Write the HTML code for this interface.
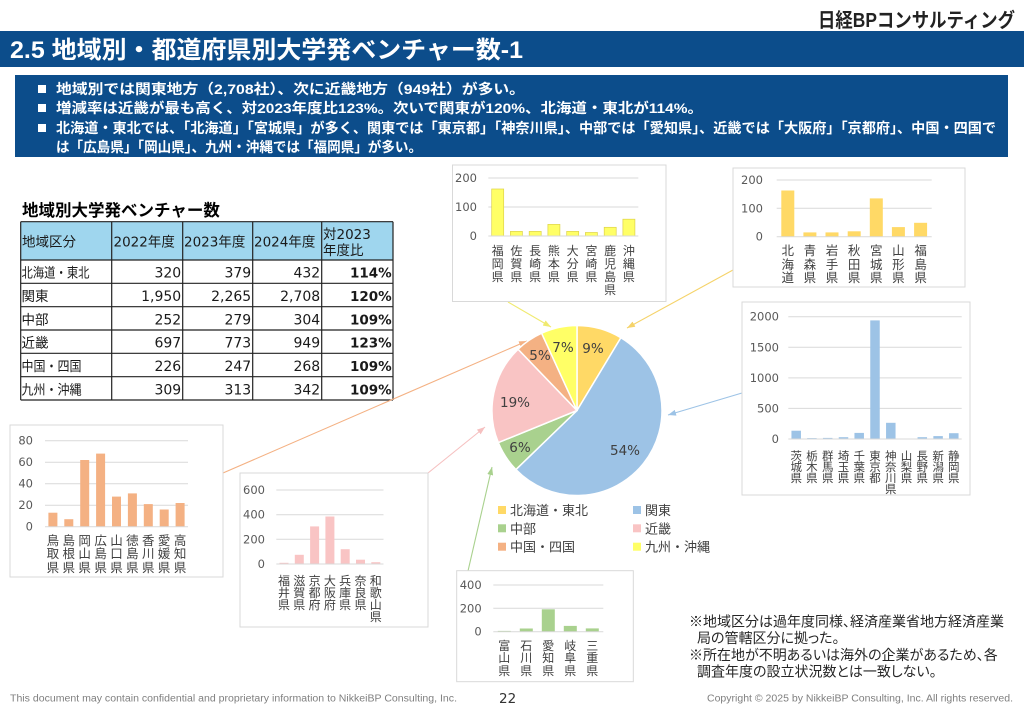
<!DOCTYPE html>
<html><head><meta charset="utf-8">
<style>
html,body{margin:0;padding:0;background:#fff;}
body{width:1024px;height:709px;position:relative;overflow:hidden;font-family:"Liberation Sans","Noto Sans CJK JP",sans-serif;}
svg{position:absolute;left:0;top:0;}
.jp{font-family:"Liberation Sans","Noto Sans CJK JP",sans-serif;}
.dv{font-family:"DejaVu Sans","Noto Sans CJK JP",sans-serif;}
.ax{font-family:"DejaVu Sans",sans-serif;font-size:11.5px;fill:#595959;text-anchor:end;}
.pl{font-family:"DejaVu Sans",sans-serif;font-size:13.5px;fill:#404040;text-anchor:middle;}
.lg{font-family:"Liberation Sans","Noto Sans CJK JP",sans-serif;font-size:13px;fill:#404040;}
.nt{font-family:"Liberation Sans","Noto Sans CJK JP",sans-serif;font-size:14px;fill:#262626;font-feature-settings:"palt";}
.v{position:absolute;width:16px;margin-left:-8px;text-align:center;color:#404040;font-family:"Noto Sans CJK JP",sans-serif;}
.a{font-size:12px;line-height:13px;top:243.5px;}
.b{font-size:12.5px;line-height:13.3px;top:243.3px;}
.c{font-size:11.5px;line-height:11px;top:451.2px;}
.d{font-size:12.5px;line-height:13.7px;top:532.5px;}
.e{font-size:12px;line-height:12px;top:574.7px;}
.f{font-size:12px;line-height:12.5px;top:639.75px;}
</style></head><body>
<svg width="1024" height="709" viewBox="0 0 1024 709" xmlns="http://www.w3.org/2000/svg">
<defs>
<marker id="mY" markerWidth="8" markerHeight="6" refX="8" refY="3" orient="auto" markerUnits="userSpaceOnUse"><path d="M0,0 L8,3 L0,6 z" fill="#f0ea70"/></marker>
<marker id="mG" markerWidth="8" markerHeight="6" refX="8" refY="3" orient="auto" markerUnits="userSpaceOnUse"><path d="M0,0 L8,3 L0,6 z" fill="#f5d36a"/></marker>
<marker id="mB" markerWidth="8" markerHeight="6" refX="8" refY="3" orient="auto" markerUnits="userSpaceOnUse"><path d="M0,0 L8,3 L0,6 z" fill="#9dc3e6"/></marker>
<marker id="mO" markerWidth="8" markerHeight="6" refX="8" refY="3" orient="auto" markerUnits="userSpaceOnUse"><path d="M0,0 L8,3 L0,6 z" fill="#f4b183"/></marker>
<marker id="mP" markerWidth="8" markerHeight="6" refX="8" refY="3" orient="auto" markerUnits="userSpaceOnUse"><path d="M0,0 L8,3 L0,6 z" fill="#f6c0c0"/></marker>
<marker id="mN" markerWidth="8" markerHeight="6" refX="8" refY="3" orient="auto" markerUnits="userSpaceOnUse"><path d="M0,0 L8,3 L0,6 z" fill="#a9d18e"/></marker>
</defs>

<!-- logo -->
<text x="818" y="27" class="jp" font-size="20" font-weight="bold" fill="#222" textLength="197" lengthAdjust="spacingAndGlyphs">日経BPコンサルティング</text>

<!-- title bar -->
<rect x="0" y="31" width="1024" height="36" fill="#0c4d8b"/>
<text x="10" y="58" class="jp" font-size="24" font-weight="bold" fill="#fff" textLength="513" lengthAdjust="spacingAndGlyphs">2.5 地域別・都道府県別大学発ベンチャー数-1</text>

<!-- summary box -->
<rect x="15" y="75" width="993" height="82" fill="#0c4d8b"/>
<rect x="38" y="85" width="8" height="8" fill="#fff"/>
<rect x="38" y="104" width="8" height="8" fill="#fff"/>
<rect x="38" y="124" width="8" height="8" fill="#fff"/>
<g class="jp" font-size="14" font-weight="bold" fill="#fff">
<text x="56" y="94" textLength="469" lengthAdjust="spacingAndGlyphs">地域別では関東地方（2,708社）、次に近畿地方（949社）が多い。</text>
<text x="56" y="113" textLength="647" lengthAdjust="spacingAndGlyphs">増減率は近畿が最も高く、対2023年度比123%。次いで関東が120%、北海道・東北が114%。</text>
<text x="56" y="133" textLength="940" lengthAdjust="spacingAndGlyphs">北海道・東北では、「北海道」「宮城県」が多く、関東では「東京都」「神奈川県」、中部では「愛知県」、近畿では「大阪府」「京都府」、中国・四国で</text>
<text x="56" y="152" textLength="366" lengthAdjust="spacingAndGlyphs">は「広島県」「岡山県」、九州・沖縄では「福岡県」が多い。</text>
</g>

<!-- table -->
<text x="22" y="216" class="jp" font-size="16.5" font-weight="bold" fill="#000">地域別大学発ベンチャー数</text>
<rect x="20.7" y="221.7" width="372.3" height="38.3" fill="#9fd6ee"/>
<g stroke="#222" stroke-width="1.2">
<line x1="20.7" y1="221.7" x2="393" y2="221.7"/>
<line x1="20.7" y1="260" x2="393" y2="260"/>
<line x1="20.7" y1="283.3" x2="393" y2="283.3"/>
<line x1="20.7" y1="306.7" x2="393" y2="306.7"/>
<line x1="20.7" y1="330" x2="393" y2="330"/>
<line x1="20.7" y1="353.3" x2="393" y2="353.3"/>
<line x1="20.7" y1="376.7" x2="393" y2="376.7"/>
<line x1="20.7" y1="400" x2="393" y2="400"/>
<line x1="20.7" y1="221.7" x2="20.7" y2="400"/>
<line x1="111.7" y1="221.7" x2="111.7" y2="400"/>
<line x1="182.7" y1="221.7" x2="182.7" y2="400"/>
<line x1="252.7" y1="221.7" x2="252.7" y2="400"/>
<line x1="321.7" y1="221.7" x2="321.7" y2="400"/>
<line x1="393" y1="221.7" x2="393" y2="400"/>
</g>
<g class="dv" font-size="13.5" fill="#1a1a1a">
<text x="22" y="246.5" class="jp">地域区分</text>
<text x="113.5" y="246.5">2022年度</text>
<text x="184" y="246.5">2023年度</text>
<text x="254" y="246.5">2024年度</text>
<text x="323" y="239">対2023</text>
<text x="323" y="255">年度比</text>
<text x="21.5" y="277.5" class="jp" textLength="68" lengthAdjust="spacingAndGlyphs">北海道・東北</text>
<text x="21.5" y="301" class="jp">関東</text>
<text x="21.5" y="324.3" class="jp">中部</text>
<text x="21.5" y="347.6" class="jp">近畿</text>
<text x="21.5" y="371" class="jp" textLength="60" lengthAdjust="spacingAndGlyphs">中国・四国</text>
<text x="21.5" y="394.3" class="jp" textLength="60" lengthAdjust="spacingAndGlyphs">九州・沖縄</text>
</g>
<g class="dv" font-size="14" fill="#1a1a1a" text-anchor="end">
<text x="181.2" y="277.5">320</text><text x="251.2" y="277.5">379</text><text x="320.2" y="277.5">432</text>
<text x="181.2" y="301">1,950</text><text x="251.2" y="301">2,265</text><text x="320.2" y="301">2,708</text>
<text x="181.2" y="324.3">252</text><text x="251.2" y="324.3">279</text><text x="320.2" y="324.3">304</text>
<text x="181.2" y="347.6">697</text><text x="251.2" y="347.6">773</text><text x="320.2" y="347.6">949</text>
<text x="181.2" y="371">226</text><text x="251.2" y="371">247</text><text x="320.2" y="371">268</text>
<text x="181.2" y="394.3">309</text><text x="251.2" y="394.3">313</text><text x="320.2" y="394.3">342</text>
</g>
<g class="dv" font-size="13.5" font-weight="bold" fill="#1a1a1a" text-anchor="end">
<text x="391.7" y="277.5">114%</text>
<text x="391.7" y="301">120%</text>
<text x="391.7" y="324.3">109%</text>
<text x="391.7" y="347.6">123%</text>
<text x="391.7" y="371">109%</text>
<text x="391.7" y="394.3">109%</text>
</g>

<!-- arrows -->
<g stroke-width="1.1" fill="none">
<line x1="508" y1="302" x2="551" y2="327" stroke="#f0ea70" marker-end="url(#mY)"/>
<line x1="733" y1="270" x2="627" y2="328" stroke="#f5d36a" marker-end="url(#mG)"/>
<line x1="742" y1="393" x2="668" y2="415" stroke="#9dc3e6" marker-end="url(#mB)"/>
<line x1="223" y1="473" x2="527" y2="341" stroke="#f4b183" marker-end="url(#mO)"/>
<line x1="428" y1="473" x2="485" y2="427" stroke="#f6c0c0" marker-end="url(#mP)"/>
<line x1="468" y1="571" x2="492" y2="467" stroke="#a9d18e" marker-end="url(#mN)"/>
</g>

<!-- Chart A: Kyushu-Okinawa -->
<rect x="452.5" y="165" width="213.5" height="136.5" fill="#fff" stroke="#d9d9d9"/>
<g stroke="#d9d9d9" stroke-width="1">
<line x1="488.3" y1="178" x2="638.3" y2="178"/>
<line x1="488.3" y1="207" x2="638.3" y2="207"/>
</g>
<g fill="#ffff66" stroke="#ddd24a" stroke-width="0.7">
<rect x="491.7" y="189" width="12" height="47"/>
<rect x="510.4" y="231.4" width="12" height="4.6"/>
<rect x="529.2" y="231.4" width="12" height="4.6"/>
<rect x="547.9" y="224.4" width="12" height="11.6"/>
<rect x="566.7" y="231.4" width="12" height="4.6"/>
<rect x="585.4" y="232.5" width="12" height="3.5"/>
<rect x="604.2" y="227.3" width="12" height="8.7"/>
<rect x="622.9" y="219.2" width="12" height="16.8"/>
</g>
<line x1="488.3" y1="236" x2="638.3" y2="236" stroke="#d9d9d9"/>
<text class="ax" x="477" y="182">200</text>
<text class="ax" x="477" y="211">100</text>
<text class="ax" x="477" y="240">0</text>

<!-- Chart B: Hokkaido-Tohoku -->
<rect x="733" y="168" width="232" height="119" fill="#fff" stroke="#d9d9d9"/>
<g stroke="#d9d9d9">
<line x1="776.7" y1="180" x2="931.7" y2="180"/>
<line x1="776.7" y1="208.3" x2="931.7" y2="208.3"/>
</g>
<g fill="#ffd966">
<rect x="781.3" y="190.5" width="13" height="46.2"/>
<rect x="803.4" y="232.4" width="13" height="4.3"/>
<rect x="825.5" y="232.4" width="13" height="4.3"/>
<rect x="847.7" y="231.3" width="13" height="5.4"/>
<rect x="869.8" y="198.4" width="13" height="38.3"/>
<rect x="891.9" y="227.1" width="13" height="9.6"/>
<rect x="914.1" y="222.8" width="13" height="13.9"/>
</g>
<line x1="776.7" y1="236.7" x2="931.7" y2="236.7" stroke="#d9d9d9"/>
<text class="ax" x="763" y="184">200</text>
<text class="ax" x="763" y="212.3">100</text>
<text class="ax" x="763" y="240.7">0</text>

<!-- Chart C: Kanto -->
<rect x="742" y="302" width="228" height="193" fill="#fff" stroke="#d9d9d9"/>
<g stroke="#d9d9d9">
<line x1="788.3" y1="316.7" x2="961.7" y2="316.7"/>
<line x1="788.3" y1="347.3" x2="961.7" y2="347.3"/>
<line x1="788.3" y1="377.85" x2="961.7" y2="377.85"/>
<line x1="788.3" y1="408.4" x2="961.7" y2="408.4"/>
</g>
<g fill="#9dc3e6">
<rect x="791.45" y="430.7" width="9.5" height="8.3"/>
<rect x="807.15" y="438.1" width="9.5" height="0.9"/>
<rect x="822.95" y="437.9" width="9.5" height="1.1"/>
<rect x="838.75" y="437.2" width="9.5" height="1.8"/>
<rect x="854.45" y="432.9" width="9.5" height="6.1"/>
<rect x="870.25" y="320.4" width="9.5" height="118.6"/>
<rect x="886.05" y="422.8" width="9.5" height="16.2"/>
<rect x="901.75" y="438.7" width="9.5" height="0.3"/>
<rect x="917.55" y="437.2" width="9.5" height="1.8"/>
<rect x="933.35" y="436.1" width="9.5" height="2.9"/>
<rect x="949.05" y="433.2" width="9.5" height="5.8"/>
</g>
<line x1="788.3" y1="439" x2="961.7" y2="439" stroke="#d9d9d9"/>
<text class="ax" x="779" y="320.7">2000</text>
<text class="ax" x="779" y="351.3">1500</text>
<text class="ax" x="779" y="381.85">1000</text>
<text class="ax" x="779" y="412.4">500</text>
<text class="ax" x="779" y="443">0</text>

<!-- Chart D: Chugoku-Shikoku -->
<rect x="10" y="425" width="213" height="152" fill="#fff" stroke="#d9d9d9"/>
<g stroke="#d9d9d9">
<line x1="45" y1="440.7" x2="188" y2="440.7"/>
<line x1="45" y1="462.2" x2="188" y2="462.2"/>
<line x1="45" y1="483.7" x2="188" y2="483.7"/>
<line x1="45" y1="505.2" x2="188" y2="505.2"/>
</g>
<g fill="#f4b183">
<rect x="48.4" y="512.7" width="9" height="14"/>
<rect x="64.3" y="519.2" width="9" height="7.5"/>
<rect x="80.2" y="460" width="9" height="66.7"/>
<rect x="96.1" y="453.6" width="9" height="73.1"/>
<rect x="112" y="496.6" width="9" height="30.1"/>
<rect x="127.9" y="493.4" width="9" height="33.3"/>
<rect x="143.8" y="504.1" width="9" height="22.6"/>
<rect x="159.7" y="509.5" width="9" height="17.2"/>
<rect x="175.6" y="503" width="9" height="23.7"/>
</g>
<line x1="45" y1="526.7" x2="188" y2="526.7" stroke="#d9d9d9"/>
<text class="ax" x="33" y="444.7">80</text>
<text class="ax" x="33" y="466.2">60</text>
<text class="ax" x="33" y="487.7">40</text>
<text class="ax" x="33" y="509.2">20</text>
<text class="ax" x="33" y="530.7">0</text>

<!-- Chart E: Kinki -->
<rect x="240" y="473" width="188" height="154" fill="#fff" stroke="#d9d9d9"/>
<g stroke="#d9d9d9">
<line x1="276.3" y1="490" x2="383.5" y2="490"/>
<line x1="276.3" y1="514.7" x2="383.5" y2="514.7"/>
<line x1="276.3" y1="539.3" x2="383.5" y2="539.3"/>
</g>
<g fill="#f9c4c4">
<rect x="279.5" y="562.8" width="9" height="1.2"/>
<rect x="294.8" y="554.8" width="9" height="9.2"/>
<rect x="310.1" y="526.4" width="9" height="37.6"/>
<rect x="325.4" y="516.5" width="9" height="47.5"/>
<rect x="340.7" y="549.2" width="9" height="14.8"/>
<rect x="356" y="559.7" width="9" height="4.3"/>
<rect x="371.3" y="562.2" width="9" height="1.8"/>
</g>
<line x1="276.3" y1="564" x2="383.5" y2="564" stroke="#d9d9d9"/>
<text class="ax" x="265" y="494">600</text>
<text class="ax" x="265" y="518.7">400</text>
<text class="ax" x="265" y="543.3">200</text>
<text class="ax" x="265" y="568">0</text>

<!-- Chart F: Chubu -->
<rect x="456.7" y="570.7" width="176.6" height="111" fill="#fff" stroke="#d9d9d9"/>
<g stroke="#d9d9d9">
<line x1="493.3" y1="585" x2="603.3" y2="585"/>
<line x1="493.3" y1="608.3" x2="603.3" y2="608.3"/>
</g>
<g fill="#a9d18e">
<rect x="497.8" y="630.9" width="13" height="0.8"/>
<rect x="519.8" y="628.5" width="13" height="3.2"/>
<rect x="541.8" y="609.3" width="13" height="22.4"/>
<rect x="563.8" y="625.9" width="13" height="5.8"/>
<rect x="585.8" y="628.4" width="13" height="3.3"/>
</g>
<line x1="493.3" y1="631.7" x2="603.3" y2="631.7" stroke="#d9d9d9"/>
<text class="ax" x="481.7" y="589">400</text>
<text class="ax" x="481.7" y="612.3">200</text>
<text class="ax" x="481.7" y="635.7">0</text>

<!-- Pie -->
<g stroke="#fff" stroke-width="1.5" stroke-linejoin="round">
<path d="M577,410.5 L577,325.5 A85,85 0 0 1 620.89,337.71 Z" fill="#ffd966"/>
<path d="M577,410.5 L620.89,337.71 A85,85 0 1 1 515.89,469.58 Z" fill="#9dc3e6"/>
<path d="M577,410.5 L515.89,469.58 A85,85 0 0 1 498.29,442.59 Z" fill="#a9d18e"/>
<path d="M577,410.5 L498.29,442.59 A85,85 0 0 1 518.08,349.24 Z" fill="#f9c4c4"/>
<path d="M577,410.5 L518.08,349.24 A85,85 0 0 1 541.61,333.22 Z" fill="#f4b183"/>
<path d="M577,410.5 L541.61,333.22 A85,85 0 0 1 577,325.5 Z" fill="#ffff66"/>
</g>
<text class="pl" x="593" y="353">9%</text>
<text class="pl" x="563" y="352">7%</text>
<text class="pl" x="540" y="360">5%</text>
<text class="pl" x="515" y="407">19%</text>
<text class="pl" x="520" y="452">6%</text>
<text class="pl" x="625" y="455">54%</text>

<!-- Legend -->
<rect x="498" y="506" width="8" height="8" fill="#ffd966"/>
<text class="lg" x="510" y="515">北海道・東北</text>
<rect x="633" y="506" width="8" height="8" fill="#9dc3e6"/>
<text class="lg" x="645" y="515">関東</text>
<rect x="498" y="524.3" width="8" height="8" fill="#a9d18e"/>
<text class="lg" x="510" y="533.3">中部</text>
<rect x="633" y="524.3" width="8" height="8" fill="#f9c4c4"/>
<text class="lg" x="645" y="533.3">近畿</text>
<rect x="498" y="542.7" width="8" height="8" fill="#f4b183"/>
<text class="lg" x="510" y="551.7">中国・四国</text>
<rect x="633" y="542.7" width="8" height="8" fill="#ffff66"/>
<text class="lg" x="645" y="551.7">九州・沖縄</text>

<!-- Notes -->
<text class="nt" x="689" y="626.5">※地域区分は過年度同様、経済産業省地方経済産業</text>
<text class="nt" x="697" y="643">局の管轄区分に拠った。</text>
<text class="nt" x="689" y="660">※所在地が不明あるいは海外の企業があるため、各</text>
<text class="nt" x="697" y="676.5">調査年度の設立状況数とは一致しない。</text>

<!-- Footer -->
<text x="10" y="701.5" font-family="'Liberation Sans',sans-serif" font-size="10" fill="#7f7f7f" textLength="447" lengthAdjust="spacingAndGlyphs">This document may contain confidential and proprietary information to NikkeiBP Consulting, Inc.</text>
<text x="499" y="703" font-family="'DejaVu Sans',sans-serif" font-size="13.5" fill="#333">22</text>
<text x="707" y="701.5" font-family="'Liberation Sans',sans-serif" font-size="10" fill="#7f7f7f" textLength="306" lengthAdjust="spacingAndGlyphs">Copyright © 2025 by NikkeiBP Consulting, Inc. All rights reserved.</text>
</svg>

<!-- Chart A labels -->
<div class="v a" style="left:497.7px">福<br>岡<br>県</div>
<div class="v a" style="left:516.4px">佐<br>賀<br>県</div>
<div class="v a" style="left:535.2px">長<br>崎<br>県</div>
<div class="v a" style="left:553.9px">熊<br>本<br>県</div>
<div class="v a" style="left:572.7px">大<br>分<br>県</div>
<div class="v a" style="left:591.4px">宮<br>崎<br>県</div>
<div class="v a" style="left:610.2px">鹿<br>児<br>島<br>県</div>
<div class="v a" style="left:628.9px">沖<br>縄<br>県</div>

<!-- Chart B labels -->
<div class="v b" style="left:787.8px">北<br>海<br>道</div>
<div class="v b" style="left:809.9px">青<br>森<br>県</div>
<div class="v b" style="left:832px">岩<br>手<br>県</div>
<div class="v b" style="left:854.2px">秋<br>田<br>県</div>
<div class="v b" style="left:876.3px">宮<br>城<br>県</div>
<div class="v b" style="left:898.4px">山<br>形<br>県</div>
<div class="v b" style="left:920.6px">福<br>島<br>県</div>

<!-- Chart C labels -->
<div class="v c" style="left:796.2px">茨<br>城<br>県</div>
<div class="v c" style="left:811.9px">栃<br>木<br>県</div>
<div class="v c" style="left:827.7px">群<br>馬<br>県</div>
<div class="v c" style="left:843.5px">埼<br>玉<br>県</div>
<div class="v c" style="left:859.2px">千<br>葉<br>県</div>
<div class="v c" style="left:875px">東<br>京<br>都</div>
<div class="v c" style="left:890.8px">神<br>奈<br>川<br>県</div>
<div class="v c" style="left:906.5px">山<br>梨<br>県</div>
<div class="v c" style="left:922.3px">長<br>野<br>県</div>
<div class="v c" style="left:938.1px">新<br>潟<br>県</div>
<div class="v c" style="left:953.8px">静<br>岡<br>県</div>

<!-- Chart D labels -->
<div class="v d" style="left:52.9px">鳥<br>取<br>県</div>
<div class="v d" style="left:68.8px">島<br>根<br>県</div>
<div class="v d" style="left:84.7px">岡<br>山<br>県</div>
<div class="v d" style="left:100.6px">広<br>島<br>県</div>
<div class="v d" style="left:116.5px">山<br>口<br>県</div>
<div class="v d" style="left:132.4px">徳<br>島<br>県</div>
<div class="v d" style="left:148.3px">香<br>川<br>県</div>
<div class="v d" style="left:164.2px">愛<br>媛<br>県</div>
<div class="v d" style="left:180.1px">高<br>知<br>県</div>

<!-- Chart E labels -->
<div class="v e" style="left:284px">福<br>井<br>県</div>
<div class="v e" style="left:299.3px">滋<br>賀<br>県</div>
<div class="v e" style="left:314.6px">京<br>都<br>府</div>
<div class="v e" style="left:329.9px">大<br>阪<br>府</div>
<div class="v e" style="left:345.2px">兵<br>庫<br>県</div>
<div class="v e" style="left:360.5px">奈<br>良<br>県</div>
<div class="v e" style="left:375.8px">和<br>歌<br>山<br>県</div>

<!-- Chart F labels -->
<div class="v f" style="left:504.3px">富<br>山<br>県</div>
<div class="v f" style="left:526.3px">石<br>川<br>県</div>
<div class="v f" style="left:548.3px">愛<br>知<br>県</div>
<div class="v f" style="left:570.3px">岐<br>阜<br>県</div>
<div class="v f" style="left:592.3px">三<br>重<br>県</div>
</body></html>
